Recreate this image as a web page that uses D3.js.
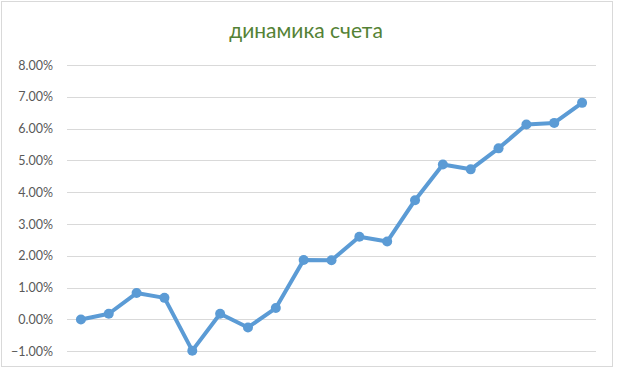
<!DOCTYPE html>
<html><head><meta charset="utf-8">
<script src="https://cdn.jsdelivr.net/npm/d3@7"></script>
<style>html,body{margin:0;padding:0;background:#fff;}</style>
</head><body>
<script>
const title = "динамика счета";
const categories = d3.range(1, 20);
const values = [0.00, 0.18, 0.83, 0.68, -0.98, 0.18, -0.25, 0.36, 1.87, 1.86, 2.60, 2.45, 3.75, 4.87, 4.72, 5.38, 6.13, 6.18, 6.81];
const yTicks = [-1, 0, 1, 2, 3, 4, 5, 6, 7, 8];

const W = 620, H = 370;
const svg = d3.select("body").append("svg").attr("width", W).attr("height", H);
svg.append("rect").attr("x", 1.5).attr("y", 1.5).attr("width", 611).attr("height", 365)
  .attr("fill", "#fff").attr("stroke", "#d9d9d9").attr("stroke-width", 1);

const x = d3.scaleBand().domain(categories).range([67, 596]);
const y = d3.scaleLinear().domain([-1, 8]).range([351.3, 65]);

const grid = svg.append("g");
grid.selectAll("line").data(yTicks).join("line")
  .attr("x1", 67).attr("x2", 596)
  .attr("y1", d => Math.round(y(d)) + 0.5).attr("y2", d => Math.round(y(d)) + 0.5)
  .attr("stroke", "#d9d9d9").attr("stroke-width", 1);

const yAxis = d3.axisLeft(y).tickValues(yTicks).tickSize(0).tickPadding(0)
  .tickFormat(d => d3.format(".2f")(d) + "%");
const ag = svg.append("g").attr("transform", "translate(53,0)").call(yAxis);
ag.select(".domain").remove();
ag.selectAll("text").attr("fill", "#595959").attr("font-family", "Lato, 'Open Sans', sans-serif").attr("font-size", 12.5);

const line = d3.line().x((d, i) => x(categories[i]) + x.bandwidth() / 2).y(d => y(d));
svg.append("path").datum(values).attr("d", line).attr("fill", "none")
  .attr("stroke", "#5B9BD5").attr("stroke-width", 4).attr("stroke-linejoin", "round").attr("stroke-linecap", "round");
svg.append("g").selectAll("circle").data(values).join("circle")
  .attr("cx", (d, i) => x(categories[i]) + x.bandwidth() / 2).attr("cy", d => y(d))
  .attr("r", 5).attr("fill", "#5B9BD5");

svg.append("text").attr("x", 306).attr("y", 38).attr("text-anchor", "middle")
  .attr("fill", "#548235").attr("font-family", "Lato, 'Open Sans', sans-serif").attr("font-size", 21)
  .text(title);
</script>
</body></html>
